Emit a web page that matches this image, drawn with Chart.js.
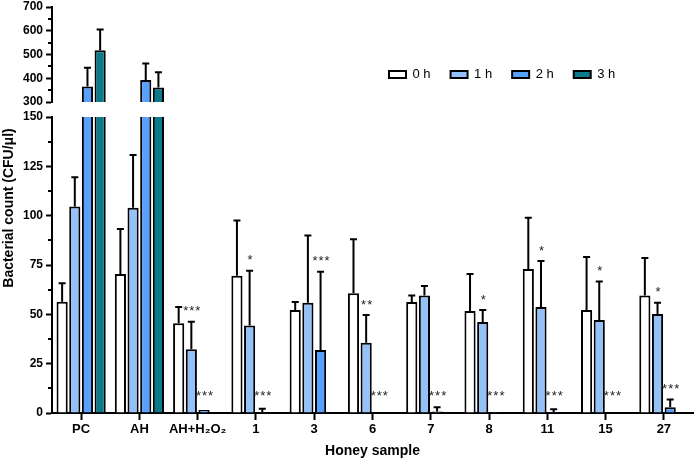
<!DOCTYPE html>
<html>
<head>
<meta charset="utf-8">
<script src="https://cdn.jsdelivr.net/npm/chart.js@4.4.1/dist/chart.umd.min.js"></script>
<style>
  body { margin: 0; background: #fff; }
  #wrap { position: relative; width: 697px; height: 460px; }
  #low, #up { position: absolute; left: 0; top: 0; }
  #up { pointer-events: none; }
</style>
</head>
<body>
<div id="wrap">
  <canvas id="low" width="697" height="460"></canvas>
  <canvas id="up" width="697" height="112"></canvas>
</div>
<script>
// honey samples on the x axis
const samples = ["PC", "AH", "AH+H\u2082O\u2082", "1", "3", "6", "7", "8", "11", "15", "27"];
const seriesNames = ["0 h", "1 h", "2 h", "3 h"];
const barColors = ["#ffffff", "#93c1f8", "#57a0fb", "#0b7a8b"];

// means (CFU/ul)
const mean0h = [56.4, 70.4, 45.5, 69.6, 52.2, 60.7, 56.3, 51.7, 73.0, 52.2, 59.5];
const mean1h = [104.6, 104.0, 32.3, 44.3, 55.9, 35.6, 59.6, 46.1, 53.7, 47.1, 50.2];
const mean2h = [365, 393, 1.5, 0.5, 31.9, 0, 0.8, 0.5, 0.5, 0, 2.9];
const mean3h = [518, 361, 0, 0, 0, 0, 0, 0, 0, 0, 0];
// standard deviations (upper error only)
const sd0h = [9.3, 22.8, 8.2, 27.9, 4.1, 27.3, 3.2, 18.8, 26.0, 26.8, 19.1];
const sd1h = [14.9, 26.8, 14.0, 27.8, 34.0, 14.1, 4.8, 6.1, 23.3, 19.5, 5.7];
const sd2h = [79, 69, 0, 1.7, 39.7, 0, 2.1, 0, 1.4, 0, 4.0];
const sd3h = [87, 64, 0, 0, 0, 0, 0, 0, 0, 0, 0];
// significance marks
const sig1h = ["", "", "***", "*", "", "**", "", "*", "*", "*", "*"];
const sig2h = ["", "", "***", "***", "***", "***", "***", "***", "***", "***", "***"];

const means = [mean0h, mean1h, mean2h, mean3h];
const sds = [sd0h, sd1h, sd2h, sd3h];
const sigs = [null, sig1h, sig2h, null];

Chart.defaults.font.family = "Arial, 'Liberation Sans', sans-serif";
Chart.defaults.color = "#000";

function makeSets() {
  return seriesNames.map((name, i) => ({
    label: name,
    data: means[i],
    backgroundColor: barColors[i],
    borderColor: "#000",
    borderWidth: 2,
    categoryPercentage: 0.87,
    barPercentage: 0.88,
    clip: 0
  }));
}

const errorBars = {
  id: "errorBars",
  afterDatasetsDraw(chart) {
    const ctx = chart.ctx, y = chart.scales.y, a = chart.chartArea;
    ctx.save();
    ctx.beginPath();
    ctx.rect(a.left, a.top - 2, a.right - a.left, a.bottom - a.top + 2);
    ctx.clip();
    ctx.strokeStyle = "#000";
    ctx.lineWidth = 2;
    means.forEach((m, i) => {
      const meta = chart.getDatasetMeta(i);
      m.forEach((v, j) => {
        const sd = sds[i][j];
        if (!sd || v > y.max || v + sd < y.min) return;
        const x = meta.data[j].x;
        const y0 = y.getPixelForValue(Math.max(v, y.min));
        const y1 = y.getPixelForValue(v + sd);
        ctx.beginPath();
        ctx.moveTo(x, y0);
        ctx.lineTo(x, y1);
        ctx.moveTo(x - 3.5, y1);
        ctx.lineTo(x + 3.5, y1);
        ctx.stroke();
      });
    });
    ctx.restore();
  }
};

const minorTicks = {
  id: "minorTicks",
  afterDraw(chart) {
    const s = chart.scales.y, ctx = chart.ctx;
    const step = s.options.ticks.stepSize;
    ctx.save();
    ctx.strokeStyle = "#000";
    ctx.lineWidth = 2;
    for (let v = s.min + step / 2; v < s.max; v += step) {
      const py = Math.round(s.getPixelForValue(v));
      ctx.beginPath();
      ctx.moveTo(s.right - 4, py);
      ctx.lineTo(s.right, py);
      ctx.stroke();
    }
    ctx.restore();
  }
};

const stars = {
  id: "stars",
  afterDatasetsDraw(chart) {
    const ctx = chart.ctx, y = chart.scales.y;
    ctx.save();
    ctx.font = "13px Arial, 'Liberation Sans', sans-serif";
    ctx.fillStyle = "#222";
    ctx.textAlign = "center";
    ctx.textBaseline = "middle";
    ctx.letterSpacing = "1px";
    sigs.forEach((list, i) => {
      if (!list) return;
      const meta = chart.getDatasetMeta(i);
      list.forEach((s, j) => {
        if (!s) return;
        const top = y.getPixelForValue(means[i][j] + sds[i][j]);
        const py = Math.min(top - 10, y.getPixelForValue(0) - 17);
        ctx.fillText(s, meta.data[j].x + 1, py);
      });
    });
    ctx.restore();
  }
};

// y title spans both parts of the broken axis, and legend sits top right
const lowExtras = {
  id: "lowExtras",
  afterLayout(chart) {
    chart.legend.left = 369;
    chart.legend.top = 48;
  },
  afterDraw(chart) {
    const ctx = chart.ctx;
    ctx.save();
    ctx.translate(9, 208);
    ctx.rotate(-Math.PI / 2);
    ctx.font = "bold 14px Arial, 'Liberation Sans', sans-serif";
    ctx.fillStyle = "#000";
    ctx.textAlign = "center";
    ctx.textBaseline = "middle";
    ctx.fillText("Bacterial count (CFU/\u03bcl)", 0, 0);
    ctx.restore();
  }
};

new Chart(document.getElementById("low"), {
  type: "bar",
  data: { labels: samples, datasets: makeSets() },
  options: {
    responsive: false,
    animation: false,
    layout: { padding: { top: 74, right: 4, left: 0, bottom: 0 } },
    plugins: {
      legend: {
        position: "top",
        align: "start",
        labels: { boxWidth: 17, boxHeight: 7, padding: 20, color: "#000", font: { size: 13 } }
      },
      tooltip: { enabled: false }
    },
    scales: {
      x: {
        grid: { drawOnChartArea: false, offset: false, tickLength: 7, tickWidth: 2, tickColor: "#000" },
        border: { color: "#000", width: 2 },
        ticks: { color: "#000", font: { size: 13, weight: "bold" }, padding: 2, maxRotation: 0, autoSkip: false },
        title: { display: true, text: "Honey sample", color: "#000", font: { size: 14, weight: "bold" }, padding: { top: 2, bottom: 0 } },
        afterFit: s => { s.height = 47; }
      },
      y: {
        min: 0, max: 150,
        ticks: { stepSize: 25, color: "#000", font: { size: 12, weight: "bold" }, padding: 3 },
        grid: { drawOnChartArea: false, tickLength: 6, tickWidth: 2, tickColor: "#000" },
        border: { color: "#000", width: 2 },
        afterFit: s => { s.width = 52; }
      }
    }
  },
  plugins: [errorBars, minorTicks, stars, lowExtras]
});

new Chart(document.getElementById("up"), {
  type: "bar",
  data: { labels: samples, datasets: makeSets() },
  options: {
    responsive: false,
    animation: false,
    layout: { padding: { top: 7, right: 4, left: 0, bottom: 10 } },
    plugins: { legend: { display: false }, tooltip: { enabled: false } },
    scales: {
      x: { display: false },
      y: {
        min: 300, max: 700,
        ticks: { stepSize: 100, color: "#000", font: { size: 12, weight: "bold" }, padding: 3 },
        grid: { drawOnChartArea: false, tickLength: 6, tickWidth: 2, tickColor: "#000" },
        border: { color: "#000", width: 2 },
        afterFit: s => { s.width = 52; s.paddingTop = 0; s.paddingBottom = 0; }
      }
    }
  },
  plugins: [errorBars, minorTicks]
});
</script>
</body>
</html>
